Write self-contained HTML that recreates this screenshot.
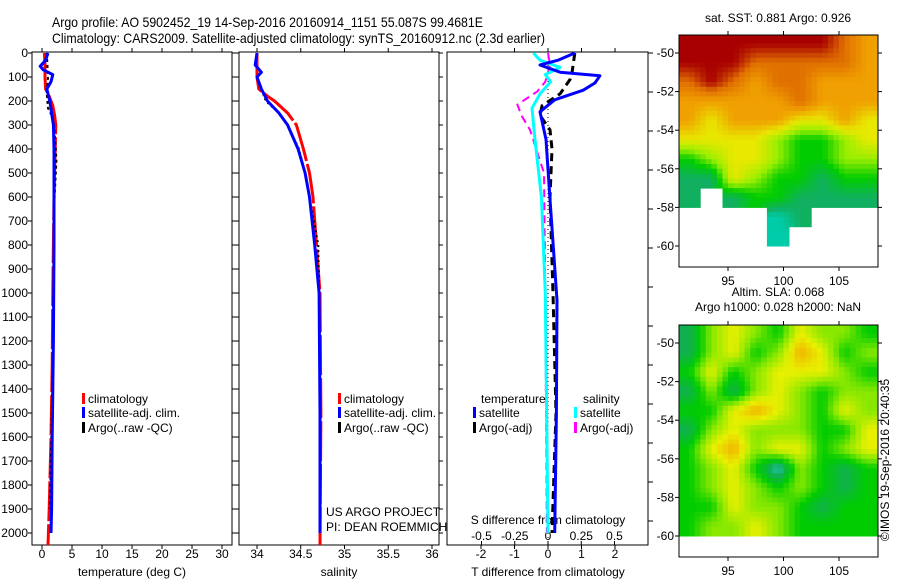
<!DOCTYPE html>
<html><head><meta charset="utf-8">
<style>
html,body{margin:0;padding:0;background:#fff;}
svg{display:block;font-family:"Liberation Sans",sans-serif;}
</style></head>
<body>
<svg id="chart" width="900" height="580" viewBox="0 0 900 580" xmlns="http://www.w3.org/2000/svg">
<text x="52" y="27" font-size="14" textLength="431" lengthAdjust="spacingAndGlyphs">Argo profile: AO 5902452_19 14-Sep-2016 20160914_1151 55.087S 99.4681E</text>
<text x="52" y="43" font-size="14" textLength="493" lengthAdjust="spacingAndGlyphs">Climatology: CARS2009. Satellite-adjusted climatology: synTS_20160912.nc (2.3d earlier)</text>
<g id="layer"></g>
</svg>
<script>
// ---------- data ----------
const depthTicks = [0,100,200,300,400,500,600,700,800,900,1000,1100,1200,1300,1400,1500,1600,1700,1800,1900,2000];
const tempTicks = [0,5,10,15,20,25,30];
const salTicks = [34,34.5,35,35.5,36];
const tdiffTicks = [-2,-1,0,1,2];
const sdiffTicks = [-0.5,-0.25,0,0.25,0.5];
const sdiffLabels = ["-0.5","-0.25","0","0.25","0.5"];

const climTempDepth = [0,50,100,150,180,220,260,300,400,600,1000,1300,1600,1900,2050];
const climTempVal   = [0.4,0.5,0.5,0.6,1.2,1.8,2.1,2.3,2.2,2.0,1.8,1.7,1.5,1.2,1.0];
const satTempDepth = [0,30,55,70,90,120,150,200,250,300,400,800,1200,1600,1900,2000];
const satTempVal   = [1.0,0.6,-0.3,0.2,1.8,1.5,0.8,1.3,1.6,1.9,2.0,2.0,1.9,1.7,1.6,1.5];
const argoTempDepth = [0,50,100,170,230,260,300,400,450,600,1000,1400,1800,1900];
const argoTempVal   = [0.8,0.9,1.0,0.8,1.0,1.6,2.0,2.3,2.4,2.1,1.9,1.7,1.4,1.3];

const climSalDepth = [0,100,150,180,200,250,300,400,500,600,800,1000,1500,2050];
const climSalVal   = [34.0,34.0,34.02,34.12,34.2,34.35,34.45,34.53,34.6,34.64,34.68,34.72,34.73,34.72];
const satSalDepth = [0,50,80,100,150,200,250,300,400,500,600,800,1000,1500,2000];
const satSalVal   = [34.0,33.98,34.05,34.0,34.05,34.12,34.25,34.35,34.47,34.55,34.6,34.66,34.71,34.72,34.72];
const argoSalDepth = [150,200,250,300,400,500,700,800,1000,1500,1900];
const argoSalVal   = [34.05,34.1,34.25,34.35,34.48,34.55,34.65,34.7,34.71,34.72,34.72];

const satTdiffDepth = [0,30,50,80,95,125,155,195,245,360,610,1030,1500,2000];
const satTdiffVal   = [0.8,0.3,-0.24,0.36,1.55,1.4,1.05,0.2,-0.24,-0.06,0.06,0.27,0.25,0.2];
const argoTdiffDepth = [0,80,110,170,220,260,320,400,600,1000,1500,2000];
const argoTdiffVal   = [0.8,0.72,0.66,0.36,-0.18,-0.24,0.06,0.12,0.06,0.15,0.24,0.12];
const satSdiffDepth = [0,30,60,90,120,170,230,350,600,1000,2000];
const satSdiffVal   = [-0.11,-0.06,0.09,-0.02,0.02,-0.06,-0.12,-0.1,-0.05,-0.02,0.0];
const argoSdiffDepth = [0,50,120,160,215,260,320,500,1000,1500,2000];
const argoSdiffVal   = [0.0,0.015,-0.02,-0.08,-0.23,-0.2,-0.135,-0.03,-0.02,-0.015,-0.008];

const mapLonTicks = [95,100,105];
const mapLatTicks = [-50,-52,-54,-56,-58,-60];
// SST map: 9 cols (2 deg lon from 90.5), 12 rows (1 deg lat from -49)
const sstGrid = [
 [8,8,8,8,8,8,8,7,6],
 [8,8,8,7,7,7,7,7,6],
 [7,8,7,6,7,7,6,6,6],
 [6,6,6,6,6,7,6,6,6],
 [6,5,6,6,6,5,5,6,5],
 [5,5,5,5,4,3,3,4,5],
 [3,4,5,5,4,3,3,4,4],
 [2,2,5,4,3,3,2,3,3],
 [2,0,2,3,3,2,2,2,2],
 [0,0,0,0,1,2,0,0,0],
 [0,0,0,0,1,0,0,0,0],
 [0,0,0,0,0,0,0,0,0]
];
const slaGrid = [
 [2,4,5,4,3,5,4,4,3],
 [2,4,5,3,4,6,5,3,4],
 [3,5,3,4,5,5,5,4,3],
 [2,4,2,4,5,4,3,4,4],
 [3,3,5,6,5,4,3,5,4],
 [2,4,5,4,4,4,3,3,5],
 [3,5,6,4,5,5,3,4,5],
 [3,4,5,3,1,4,3,2,3],
 [3,4,5,4,3,4,3,2,3],
 [3,3,5,4,4,3,2,3,3],
 [3,4,4,5,4,3,3,3,3],
 [0,0,0,0,0,0,0,0,0]
];

// ---------- helpers ----------
const NS = "http://www.w3.org/2000/svg";
const layer = document.getElementById("layer");
function mk(tag, attrs, parent){
  const e = document.createElementNS(NS, tag);
  for (const k in attrs) e.setAttribute(k, attrs[k]);
  (parent||layer).appendChild(e);
  return e;
}
const yTop = 53, pxPer100 = 24, yBottom = 545;
function yD(d){ return yTop + d*pxPer100/100; }

function panel(x0, x1, name){
  const r = mk("rect",{x:x0,y:yTop-1,width:x1-x0,height:yBottom-yTop+1,fill:"none",stroke:"#000","stroke-width":1});
  
  
}
function line(x1,y1,x2,y2,name){
  const l = mk("line",{x1:x1,y1:y1,x2:x2,y2:y2,stroke:"#000","stroke-width":1});
  
  
  return l;
}
function text(x,y,s,size,anchor,name){
  const t = mk("text",{x:x,y:y,"font-size":size,"text-anchor":anchor||"start"});
  t.textContent = s;
  
  
  return t;
}
function profile(depths, vals, xf, color, width, dash, name){
  let d = "";
  for (let i=0;i<depths.length;i++){
    d += (i?"L":"M") + xf(vals[i]).toFixed(1) + "," + yD(depths[i]).toFixed(1);
  }
  const p = mk("path",{d:d,fill:"none",stroke:color,"stroke-width":width,"stroke-linejoin":"round"});
  if (dash) p.setAttribute("stroke-dasharray", dash);
  
  
}
function legendEntry(x,y,color,label,name){
  const r = mk("rect",{x:x,y:y-10,width:3,height:11,fill:color});
  
  
  text(x+6,y,label,12,"start",name+'-label');
}

// ---------- panel 1: temperature ----------
const p1x0=32, p1x1=232;
const xT = v => 42 + v*6;
panel(p1x0,p1x1,"temperature-panel-frame");
depthTicks.forEach(d=>{
  line(p1x0-4,yD(d),p1x0,yD(d),"depth-tick");
  line(p1x1,yD(d),p1x1+4,yD(d),"depth-tick-right");
  text(28,yD(d)+4,String(d),12,"end","depth-tick-label");
});
tempTicks.forEach(v=>{
  line(xT(v),yTop-5,xT(v),yTop-1,"temp-tick-top");
  line(xT(v),yBottom,xT(v),yBottom+4,"temp-tick");
  text(xT(v),558,String(v),12,"middle","temp-tick-label");
});
text(132,576,"temperature (deg C)",12,"middle","temperature-axis-title");
profile(climTempDepth,climTempVal,xT,"#ff0000",3,"40 3","temp-climatology-line");
profile(argoTempDepth,argoTempVal,xT,"#000000",2,"3 3","temp-argo-line");
profile(satTempDepth,satTempVal,xT,"#0000ff",3,null,"temp-satellite-line");
legendEntry(82,403,"#ff0000","climatology","temp-legend-climatology");
legendEntry(82,417,"#0000ff","satellite-adj. clim.","temp-legend-satellite");
legendEntry(82,432,"#000000","Argo(..raw -QC)","temp-legend-argo");

// ---------- panel 2: salinity ----------
const p2x0=239, p2x1=439;
const xS = v => 257 + (v-34)*87.5;
panel(p2x0,p2x1,"salinity-panel-frame");
depthTicks.forEach(d=>{
  line(p2x0-4,yD(d),p2x0,yD(d),"sal-depth-tick");
  line(p2x1,yD(d),p2x1+4,yD(d),"sal-depth-tick-right");
});
salTicks.forEach(v=>{
  line(xS(v),yTop-5,xS(v),yTop-1,"sal-tick-top");
  line(xS(v),yBottom,xS(v),yBottom+4,"sal-tick");
  text(xS(v),558,String(v),12,"middle","sal-tick-label");
});
text(339,576,"salinity",12,"middle","salinity-axis-title");
profile(climSalDepth,climSalVal,xS,"#ff0000",3,"40 3","sal-climatology-line");
profile(argoSalDepth,argoSalVal,xS,"#000000",2,"2 3","sal-argo-line");
profile(satSalDepth,satSalVal,xS,"#0000ff",3,null,"sal-satellite-line");
legendEntry(338,403,"#ff0000","climatology","sal-legend-climatology");
legendEntry(338,417,"#0000ff","satellite-adj. clim.","sal-legend-satellite");
legendEntry(338,432,"#000000","Argo(..raw -QC)","sal-legend-argo");
text(326,516,"US ARGO PROJECT",12,"start","credit-project");
text(326,531,"PI: DEAN ROEMMICH",12,"start","credit-pi");

// ---------- panel 3: differences ----------
const p3x0=447, p3x1=648;
const xTd = v => 548 + v*33.5;
const xSd = v => 548 + v*133;
panel(p3x0,p3x1,"difference-panel-frame");
for (let y=yTop; y<=yBottom; y+=39){ line(p3x1,y,p3x1+5,y,"diff-right-tick"); }
tdiffTicks.forEach(v=>{
  line(xTd(v),yBottom,xTd(v),yBottom+4,"tdiff-tick");
  line(xTd(v),yTop-5,xTd(v),yTop-1,"tdiff-tick-top");
  text(xTd(v),558,String(v),12,"middle","tdiff-tick-label");
});
sdiffTicks.forEach((v,i)=>{
  line(xSd(v),yBottom-4,xSd(v),yBottom,"sdiff-tick");
  text(xSd(v),540,sdiffLabels[i],12,"middle","sdiff-tick-label");
});
text(548,524,"S difference from climatology",12,"middle","sdiff-axis-title");
text(548,576,"T difference from climatology",12,"middle","tdiff-axis-title");
const zl = line(548,yTop,548,yBottom,"zero-line");
zl.setAttribute("stroke-dasharray","1 3");
profile(argoSdiffDepth,argoSdiffVal,xSd,"#ff00ff",2,"8 5","sdiff-argo-line");
profile(satSdiffDepth,satSdiffVal,xSd,"#00ffff",3,null,"sdiff-satellite-line");
profile(argoTdiffDepth,argoTdiffVal,xTd,"#000000",3,"8 5","tdiff-argo-line");
profile(satTdiffDepth,satTdiffVal,xTd,"#0000ff",3,null,"tdiff-satellite-line");
text(481,403,"temperature",12,"start","diff-legend-temperature-heading");
legendEntry(473,417,"#0000ff","satellite","tdiff-legend-satellite");
legendEntry(473,432,"#000000","Argo(-adj)","tdiff-legend-argo");
text(583,403,"salinity",12,"start","diff-legend-salinity-heading");
legendEntry(574,417,"#00ffff","satellite","sdiff-legend-satellite");
legendEntry(574,432,"#ff00ff","Argo(-adj)","sdiff-legend-argo");

// ---------- maps ----------
const sstColors = ["#ffffff","#00ccaa","#10b060","#00cc00","#99ee00","#e8e800","#f0a000","#e07000","#a80000"];
const slaColors = ["#ffffff","#20c8c0","#10b050","#00cc00","#88e800","#e8f000","#f0b000"];
function hex(c){ return [parseInt(c.slice(1,3),16),parseInt(c.slice(3,5),16),parseInt(c.slice(5,7),16)]; }
function colorAt(colors, v){
  const lo = Math.max(1, Math.floor(v)), hi = Math.min(colors.length-1, lo+1);
  const t = Math.min(1, Math.max(0, v-lo));
  const a = hex(colors[lo]), b = hex(colors[hi]);
  return "rgb(" + a.map((x,i)=>Math.round(x+(b[i]-x)*t)).join(",") + ")";
}
function sample(grid, fc, fr){
  // bilinear over non-zero neighbours; cell centres at integer+0.5
  const nr = grid.length, nc = grid[0].length;
  const ri = Math.min(nr-1, Math.max(0, Math.floor(fr))), ci = Math.min(nc-1, Math.max(0, Math.floor(fc)));
  if (!grid[ri][ci]) return 0;
  const gr = fr-0.5, gc = fc-0.5;
  const r0 = Math.floor(gr), c0 = Math.floor(gc);
  let s=0, w=0;
  for (let dr=0; dr<2; dr++) for (let dc=0; dc<2; dc++){
    const r = Math.min(nr-1, Math.max(0, r0+dr)), c = Math.min(nc-1, Math.max(0, c0+dc));
    const v = grid[r][c]; if (!v) continue;
    const wt = (dr? gr-r0 : 1-(gr-r0)) * (dc? gc-c0 : 1-(gc-c0));
    s += v*wt; w += wt;
  }
  return w>0 ? s/w : grid[ri][ci];
}
function drawMap(top, grid, colors, name, titleLines){
  const mx0=679, mx1=878, h=232;
  const lonX = lon => 728 + (lon-95)*11.1;
  const latY = lat => top + 18 + (-50-lat)*19.3;
  const nc = grid[0].length, nr = grid.length;
  const sub = 4;
  for (let r=0;r<nr*sub;r++){
    for (let c=0;c<nc*sub;c++){
      const v = sample(grid, (c+0.5)/sub, (r+0.5)/sub);
      if (!v) continue;
      const lon0 = 90.5 + c*2/sub, lat0 = -49 - r/sub;
      const x = Math.max(mx0, lonX(lon0));
      const xe = Math.min(mx1, lonX(lon0+2/sub));
      const y = Math.max(top, latY(lat0));
      const ye = latY(lat0-1/sub);
      if (ye<=top) continue;
      const cell = mk("rect",{x:x.toFixed(1),y:y.toFixed(1),width:(xe-x+0.5).toFixed(1),height:(ye-y+0.5).toFixed(1),fill:colorAt(colors,v)});
      
      
    }
  }
  const f = mk("rect",{x:mx0,y:top,width:mx1-mx0,height:h,fill:"none",stroke:"#000","stroke-width":1});
  
  
  mapLatTicks.forEach(lat=>{
    line(mx0-4,latY(lat),mx0,latY(lat),name+"-lat-tick");
    line(mx1,latY(lat),mx1+4,latY(lat),name+"-lat-tick-right");
    text(674,latY(lat)+4,String(lat),12,"end",name+"-lat-label");
  });
  mapLonTicks.forEach(lon=>{
    line(lonX(lon),top-4,lonX(lon),top,name+"-lon-tick-top");
    line(lonX(lon),top+h,lonX(lon),top+h+4,name+"-lon-tick");
    text(lonX(lon),top+h+18,String(lon),12,"middle",name+"-lon-label");
  });
  titleLines.forEach((s,i)=>text(778,top-21+i*15+(titleLines.length===1?8:-8),s,12,"middle",name+"-title-"+i));
}
drawMap(35, sstGrid, sstColors, "sst-map", ["sat. SST: 0.881  Argo: 0.926"]);
drawMap(325, slaGrid, slaColors, "sla-map", ["Altim. SLA: 0.068","Argo h1000: 0.028 h2000: NaN"]);

const cr = text(0,0,"©IMOS 19-Sep-2016 20:40:35",12,"middle","copyright-timestamp");
cr.setAttribute("transform","translate(889,460) rotate(-90)");
</script>
</body></html>
